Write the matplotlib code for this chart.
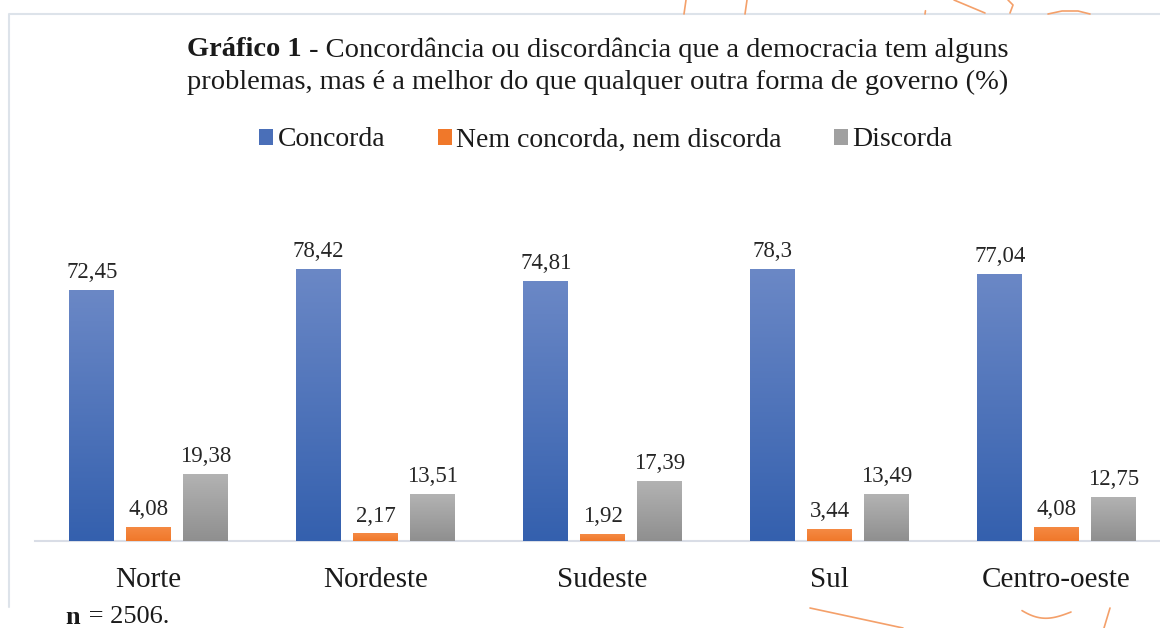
import numpy as np
import matplotlib
matplotlib.use("Agg")
import matplotlib.pyplot as plt
from matplotlib.colors import LinearSegmentedColormap
from matplotlib.patches import Patch
from matplotlib.lines import Line2D

categories = ["Norte", "Nordeste", "Sudeste", "Sul", "Centro-oeste"]
series_names = ["Concorda", "Nem concorda, nem discorda", "Discorda"]
concorda = [72.45, 78.42, 74.81, 78.3, 77.04]
nem = [4.08, 2.17, 1.92, 3.44, 4.08]
discorda = [19.38, 13.51, 17.39, 13.49, 12.75]
values = [concorda, nem, discorda]

plt.rcParams['font.family'] = ['Liberation Serif', 'DejaVu Serif']

W, H = 1160, 628
fig = plt.figure(figsize=(W / 100, H / 100), dpi=100)
fig.patch.set_facecolor("white")


def fig_line(xs, ys, color, lw=1.2):
    fx = [v / W for v in xs]
    fy = [1 - v / H for v in ys]
    fig.add_artist(Line2D(fx, fy, transform=fig.transFigure, color=color, lw=lw, solid_capstyle="round"))


# chart border (left and top edges)
border = "#dde3ea"
fig_line([9, 9, 1160], [607, 14, 14], border, lw=1.5)

# decorative page strokes
deco = "#f4a06a"
fig_line([684, 686], [14, 0], deco)
fig_line([745, 747], [14, 0], deco)
t = np.linspace(0, 1, 40)
fig_line(list(925 + 2 * t[:10]), list(14 - 14 * t[:10]), deco)
fig_line([954, 985], [0, 13], deco)
fig_line([1008, 1013, 1010], [0, 5, 13], deco)
fig_line([1048, 1062, 1078, 1090], [14, 11, 11, 14], deco)
fig_line([810, 903], [608, 628], deco)
cx = np.linspace(1022, 1071, 30)
cy = 608 + 13 * np.sin(np.linspace(0.2, 2.6, 30)) * np.linspace(1, 0.6, 30)
fig_line(list(cx), list(cy), deco)
fig_line([1110, 1104], [608, 628], deco)

ax_left, ax_right = 35, 1160
ax_bottom, ax_top = 541, 200
ax = fig.add_axes([ax_left / W, 1 - ax_bottom / H, (ax_right - ax_left) / W, (ax_bottom - ax_top) / H])
ax.set_facecolor("none")
slot = 227.0
xmax = -0.5 + (ax_right - ax_left) / slot
ymax = (ax_bottom - ax_top) / 3.47

grad_colors = [
    ("#3460ae", "#6b88c6"),
    ("#f0782a", "#f58a44"),
    ("#8f8f8f", "#b3b3b3"),
]
offsets = [-0.25, 0.0, 0.25]
width = 0.198
x = np.arange(len(categories))
grad = np.linspace(0, 1, 256).reshape(-1, 1)
for s, (vals, off, (c0, c1)) in enumerate(zip(values, offsets, grad_colors)):
    cmap = LinearSegmentedColormap.from_list(f"g{s}", [c0, c1])
    bars = ax.bar(x + off, vals, width=width, color=c0, edgecolor="none", zorder=2)
    for b, v in zip(bars, vals):
        bx, bw, bh = b.get_x(), b.get_width(), b.get_height()
        im = ax.imshow(grad, extent=[bx, bx + bw, 0, bh], origin="lower", cmap=cmap,
                       aspect="auto", zorder=3)
        im.set_clip_path(b)
        ax.annotate(str(v).replace(".", ","), (bx + bw / 2, bh), xytext=(0, 5),
                    textcoords="offset points", ha="center", va="bottom",
                    fontsize=16.5, color="#262626", zorder=4)

ax.set_xlim(-0.5, xmax)
ax.set_ylim(0, ymax)
for sp in ["top", "right", "left"]:
    ax.spines[sp].set_visible(False)
ax.spines["bottom"].set_color("#d9dde6")
ax.spines["bottom"].set_linewidth(1.5)
ax.set_yticks([])
ax.set_xticks(x)
ax.set_xticklabels(categories, fontsize=21, color="#1a1a1a")
ax.tick_params(axis="x", length=0, pad=19)

# title
tfs = 20.5
title_rest = " - Concordância ou discordância que a democracia tem alguns"
t1 = fig.text(0, 1 - 50 / H, "Gráfico 1", fontsize=tfs, fontweight="bold",
              ha="left", va="center", color="#1a1a1a")
t2 = fig.text(0, 1 - 50 / H, title_rest, fontsize=tfs, ha="left", va="center", color="#1a1a1a")
fig.canvas.draw()
w1 = t1.get_window_extent().width
w2 = t2.get_window_extent().width
start = 598 - (w1 + w2) / 2
t1.set_x(start / W)
t2.set_x((start + w1) / W)
fig.text(598 / W, 1 - 82 / H, "problemas, mas é a melhor do que qualquer outra forma de governo (%)",
         fontsize=tfs, ha="center", va="center", color="#1a1a1a")

# legend
handles = [Patch(facecolor="#4a6fb8", edgecolor="none"),
           Patch(facecolor="#f0782a", edgecolor="none"),
           Patch(facecolor="#a0a0a0", edgecolor="none")]
fig.legend(handles, series_names, loc="center", bbox_to_anchor=(606 / W, 1 - 140 / H), ncol=3,
           frameon=False, fontsize=20, handlelength=0.5, handleheight=0.5, handletextpad=0.15,
           columnspacing=1.9, labelcolor="#1a1a1a")

# footnote
tn = fig.text(65 / W, 1 - 617 / H, "n", fontsize=19, fontweight="bold", ha="left", va="center",
              color="#1a1a1a")
fig.canvas.draw()
nx = tn.get_window_extent().x1
fig.text((nx + 2) / W, 1 - 617 / H, " = 2506.", fontsize=19, ha="left", va="center", color="#1a1a1a")

fig.savefig("out.png", dpi=100, facecolor="white")
